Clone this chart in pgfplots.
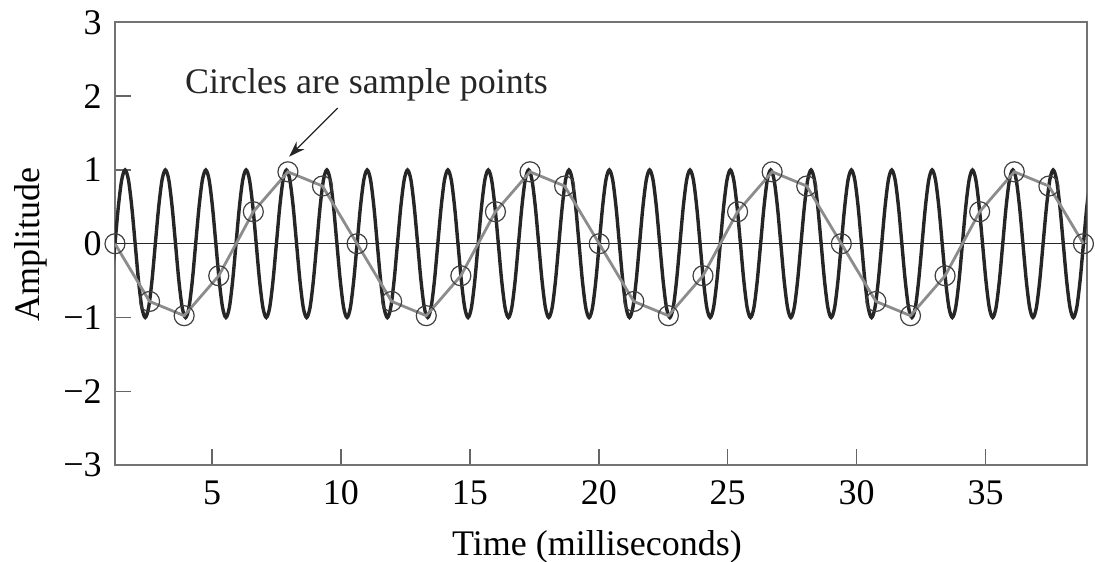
\documentclass[border=0pt]{standalone}
\usepackage{fontspec}
\setmainfont{Liberation Serif}
\usepackage{pgfplots}
\pgfplotsset{compat=1.18}
\usetikzlibrary{arrows.meta}

\begin{document}
\fontsize{18}{21.6}\selectfont
\begin{tikzpicture}
\begin{axis}[
  scale only axis,
  width=485.9pt, height=221.4pt,
  xmin=1.234, xmax=38.92,
  ymin=-3, ymax=3,
  xtick={5,10,...,35},
  ytick={-3,-2,-1,0,1,2,3},
  yticklabels={−3,−2,−1,0,1,2,3},
  /pgf/number format/assume math mode=true,
  tick pos=left, tick align=inside,
  major tick length=8pt,
  axis line style={black!55, line width=0.9pt},
  tick style={black!60, line width=0.7pt},
  xticklabel style={yshift=-1.5pt},
  yticklabel style={xshift=-0.5pt},
  every axis x label/.style={at={(axis description cs:0.496,0)}, anchor=base, yshift=-45pt},
  every axis y label/.style={at={(axis description cs:-0.0772,0.498)}, rotate=90, anchor=base},
  xlabel={Time (milliseconds)},
  ylabel={Amplitude},
]
% zero line
\addplot[black!85, line width=0.5pt] coordinates {(1.234,0) (38.92,0)};

% 637 Hz tone (dark)
\addplot[black!85, line width=1.7pt, smooth] coordinates {
(0.973,-0.866) (1.104,-0.5)
(1.234,0) (1.364,0.5) (1.495,0.866) (1.625,1) (1.756,0.866) (1.886,0.5) (2.017,0) (2.147,-0.5) (2.277,-0.866) (2.408,-1) (2.538,-0.866) (2.669,-0.5)
(2.799,0) (2.930,0.5) (3.060,0.866) (3.190,1) (3.321,0.866) (3.451,0.5) (3.582,0) (3.712,-0.5) (3.843,-0.866) (3.973,-1) (4.103,-0.866) (4.234,-0.5)
(4.364,0) (4.495,0.5) (4.625,0.866) (4.756,1) (4.886,0.866) (5.016,0.5) (5.147,0) (5.277,-0.5) (5.408,-0.866) (5.538,-1) (5.669,-0.866) (5.799,-0.5)
(5.929,0) (6.060,0.5) (6.190,0.866) (6.321,1) (6.451,0.866) (6.582,0.5) (6.712,0) (6.842,-0.5) (6.973,-0.866) (7.103,-1) (7.234,-0.866) (7.364,-0.5)
(7.495,0) (7.625,0.5) (7.755,0.866) (7.886,1) (8.016,0.866) (8.147,0.5) (8.277,0) (8.408,-0.5) (8.538,-0.866) (8.668,-1) (8.799,-0.866) (8.929,-0.5)
(9.060,0) (9.190,0.5) (9.321,0.866) (9.451,1) (9.581,0.866) (9.712,0.5) (9.842,0) (9.973,-0.5) (10.103,-0.866) (10.234,-1) (10.364,-0.866) (10.494,-0.5)
(10.625,0) (10.755,0.5) (10.886,0.866) (11.016,1) (11.147,0.866) (11.277,0.5) (11.407,0) (11.538,-0.5) (11.668,-0.866) (11.799,-1) (11.929,-0.866) (12.060,-0.5)
(12.190,0) (12.320,0.5) (12.451,0.866) (12.581,1) (12.712,0.866) (12.842,0.5) (12.973,0) (13.103,-0.5) (13.233,-0.866) (13.364,-1) (13.494,-0.866) (13.625,-0.5)
(13.755,0) (13.886,0.5) (14.016,0.866) (14.146,1) (14.277,0.866) (14.407,0.5) (14.538,0) (14.668,-0.5) (14.799,-0.866) (14.929,-1) (15.059,-0.866) (15.190,-0.5)
(15.320,0) (15.451,0.5) (15.581,0.866) (15.712,1) (15.842,0.866) (15.972,0.5) (16.103,0) (16.233,-0.5) (16.364,-0.866) (16.494,-1) (16.625,-0.866) (16.755,-0.5)
(16.885,0) (17.016,0.5) (17.146,0.866) (17.277,1) (17.407,0.866) (17.538,0.5) (17.668,0) (17.798,-0.5) (17.929,-0.866) (18.059,-1) (18.190,-0.866) (18.320,-0.5)
(18.450,0) (18.581,0.5) (18.711,0.866) (18.842,1) (18.972,0.866) (19.103,0.5) (19.233,0) (19.363,-0.5) (19.494,-0.866) (19.624,-1) (19.755,-0.866) (19.885,-0.5)
(20.016,0) (20.146,0.5) (20.276,0.866) (20.407,1) (20.537,0.866) (20.668,0.5) (20.798,0) (20.929,-0.5) (21.059,-0.866) (21.189,-1) (21.320,-0.866) (21.450,-0.5)
(21.581,0) (21.711,0.5) (21.842,0.866) (21.972,1) (22.102,0.866) (22.233,0.5) (22.363,0) (22.494,-0.5) (22.624,-0.866) (22.755,-1) (22.885,-0.866) (23.015,-0.5)
(23.146,0) (23.276,0.5) (23.407,0.866) (23.537,1) (23.668,0.866) (23.798,0.5) (23.928,0) (24.059,-0.5) (24.189,-0.866) (24.320,-1) (24.450,-0.866) (24.581,-0.5)
(24.711,0) (24.841,0.5) (24.972,0.866) (25.102,1) (25.233,0.866) (25.363,0.5) (25.494,0) (25.624,-0.5) (25.754,-0.866) (25.885,-1) (26.015,-0.866) (26.146,-0.5)
(26.276,0) (26.407,0.5) (26.537,0.866) (26.667,1) (26.798,0.866) (26.928,0.5) (27.059,0) (27.189,-0.5) (27.320,-0.866) (27.450,-1) (27.580,-0.866) (27.711,-0.5)
(27.841,0) (27.972,0.5) (28.102,0.866) (28.233,1) (28.363,0.866) (28.493,0.5) (28.624,0) (28.754,-0.5) (28.885,-0.866) (29.015,-1) (29.146,-0.866) (29.276,-0.5)
(29.406,0) (29.537,0.5) (29.667,0.866) (29.798,1) (29.928,0.866) (30.059,0.5) (30.189,0) (30.319,-0.5) (30.450,-0.866) (30.580,-1) (30.711,-0.866) (30.841,-0.5)
(30.972,0) (31.102,0.5) (31.232,0.866) (31.363,1) (31.493,0.866) (31.624,0.5) (31.754,0) (31.885,-0.5) (32.015,-0.866) (32.145,-1) (32.276,-0.866) (32.406,-0.5)
(32.537,0) (32.667,0.5) (32.798,0.866) (32.928,1) (33.058,0.866) (33.189,0.5) (33.319,0) (33.450,-0.5) (33.580,-0.866) (33.711,-1) (33.841,-0.866) (33.971,-0.5)
(34.102,0) (34.232,0.5) (34.363,0.866) (34.493,1) (34.624,0.866) (34.754,0.5) (34.884,0) (35.015,-0.5) (35.145,-0.866) (35.276,-1) (35.406,-0.866) (35.537,-0.5)
(35.667,0) (35.797,0.5) (35.928,0.866) (36.058,1) (36.189,0.866) (36.319,0.5) (36.450,0) (36.580,-0.5) (36.710,-0.866) (36.841,-1) (36.971,-0.866) (37.102,-0.5)
(37.232,0) (37.363,0.5) (37.493,0.866) (37.623,1) (37.754,0.866) (37.884,0.5) (38.015,0) (38.145,-0.5) (38.276,-0.866) (38.406,-1) (38.536,-0.866) (38.667,-0.5)
(38.797,0) (38.928,0.5) (39.058,0.866) (39.189,1)
};

% sampled values (gray line, circles)
\addplot[black!45, line width=1.4pt, mark=o, mark size=5pt,
  mark options={draw=black!75, fill=none, line width=0.6pt}] coordinates {
(1.234,0) (2.576,-0.782) (3.917,-0.975) (5.259,-0.434) (6.600,0.434) (7.942,0.975) (9.283,0.782)
(10.625,0) (11.966,-0.782) (13.308,-0.975) (14.649,-0.434) (15.991,0.434) (17.332,0.975) (18.674,0.782)
(20.016,0) (21.357,-0.782) (22.699,-0.975) (24.040,-0.434) (25.382,0.434) (26.723,0.975) (28.065,0.782)
(29.406,0) (30.748,-0.782) (32.089,-0.975) (33.431,-0.434) (34.772,0.434) (36.114,0.975) (37.456,0.782)
(38.797,0)
};

\node[anchor=base, text=black!85] at (axis cs:10.99,2.042) {Circles are sample points};
\draw[black!85, line width=0.6pt, -{Stealth[length=8pt, width=5.5pt]}]
  (axis cs:9.871,1.839) -- (axis cs:7.99,1.18);
\end{axis}
\pgfresetboundingbox
\path ([shift={(-57.5pt,-48pt)}]current axis.south west)
  rectangle ([shift={(4.2pt,11.2pt)}]current axis.north east);
\end{tikzpicture}
\end{document}
